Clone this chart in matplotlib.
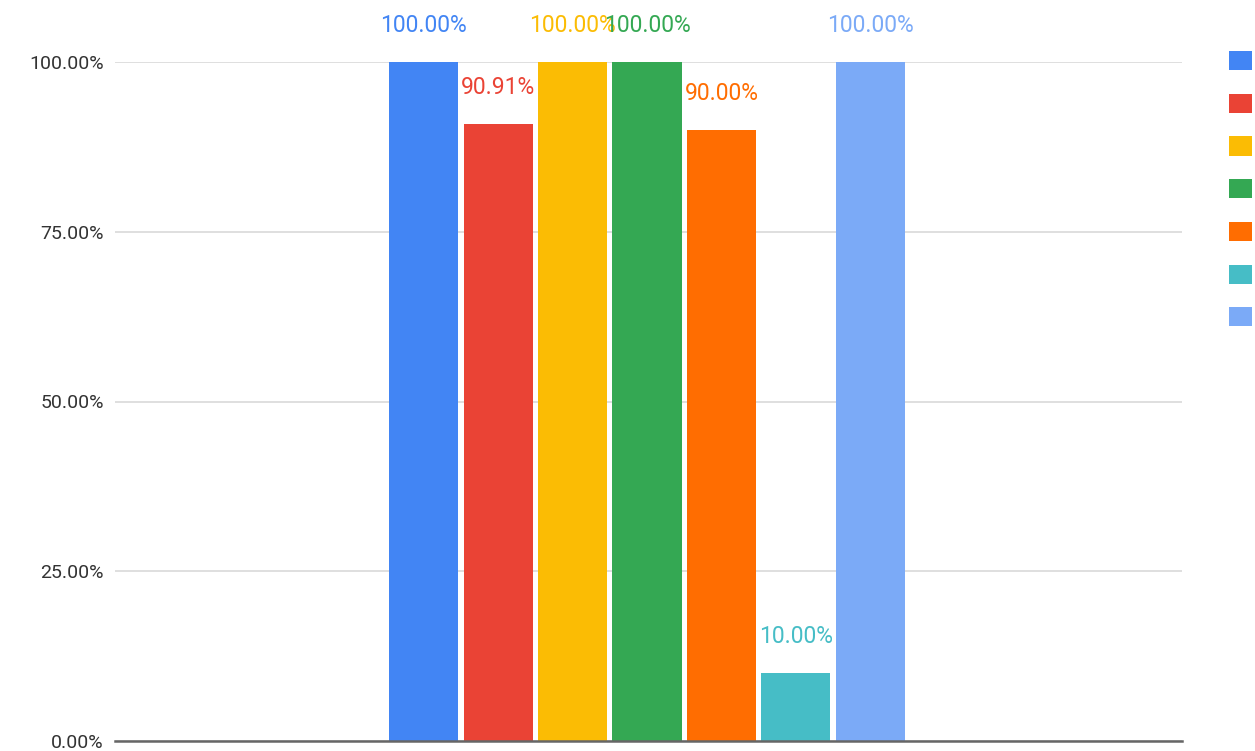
import matplotlib
matplotlib.use('Agg')
import matplotlib.pyplot as plt
from matplotlib.ticker import PercentFormatter

# Series values (share of 1.0)
series = ['A', 'B', 'C', 'D', 'E', 'F', 'G']
values = [1.0, 0.9091, 1.0, 1.0, 0.90, 0.10, 1.0]
colors = ['#4285F4', '#EA4335', '#FBBC04', '#34A853', '#FF6D01', '#46BDC6', '#7BAAF7']
yticks = [0, 0.25, 0.5, 0.75, 1.0]

plt.rcParams['font.family'] = ['Roboto', 'DejaVu Sans']

fig = plt.figure(figsize=(12.55, 7.51), dpi=100)
ax = fig.add_axes([115 / 1255, 10 / 751, (1182 - 115) / 1255, (741 - 62) / 751])

pos = list(range(len(values)))
bars = ax.bar(pos, values, width=0.93, color=colors, zorder=3)

# value labels above each bar
for x, v, c in zip(pos, values, colors):
    ax.annotate(f'{v * 100:.2f}%', (x, v), xytext=(0, 26), textcoords='offset points',
                ha='center', va='center', color=c, fontsize=16.5, zorder=4)

ax.set_xlim(-4.15, 10.19)
ax.set_ylim(0, 1.0)
ax.set_yticks(yticks)
ax.yaxis.set_major_formatter(PercentFormatter(1.0, decimals=2))
ax.set_xticks([])
ax.grid(axis='y', color='#d9d9d9', linewidth=1.2, zorder=0)
for s in ['top', 'right', 'left']:
    ax.spines[s].set_visible(False)
ax.spines['bottom'].set_color('#666666')
ax.spines['bottom'].set_linewidth(1.8)
ax.spines['bottom'].set_zorder(5)
ax.tick_params(axis='y', length=0, pad=8, labelsize=14, labelcolor='#333333')

# legend swatches along the right edge
fig.legend(bars, [''] * len(bars), loc='upper left',
           bbox_to_anchor=(1229 / 1255, 1 - 51 / 751), frameon=False,
           borderpad=0, borderaxespad=0, handlelength=1.25, handleheight=1.25,
           handletextpad=0.3, labelspacing=1.28, fontsize=13)

fig.savefig('out.png', dpi=100)
